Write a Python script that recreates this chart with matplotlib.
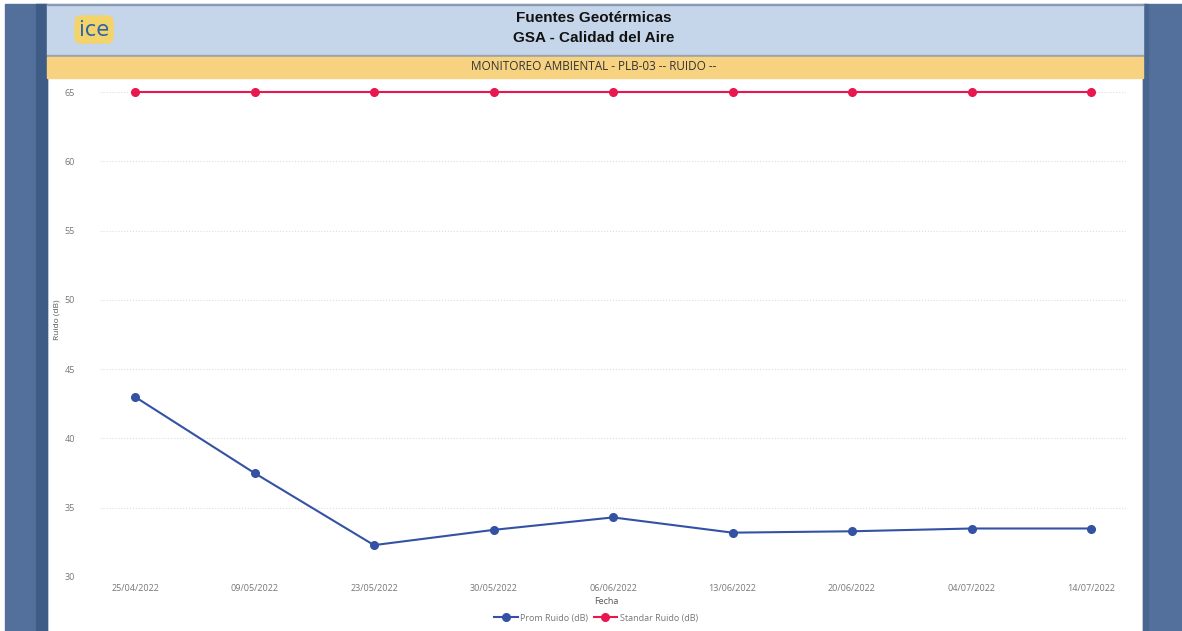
import matplotlib.pyplot as plt
from matplotlib.patches import Rectangle, FancyBboxPatch
from matplotlib.lines import Line2D

fechas = ['25/04/2022', '09/05/2022', '23/05/2022', '30/05/2022', '06/06/2022',
          '13/06/2022', '20/06/2022', '04/07/2022', '14/07/2022']
prom_ruido = [43.0, 37.5, 32.3, 33.4, 34.3, 33.2, 33.3, 33.5, 33.5]
standar_ruido = [65, 65, 65, 65, 65, 65, 65, 65, 65]
y_ticks = [30, 35, 40, 45, 50, 55, 60, 65]

W, H = 1182, 631
fig = plt.figure(figsize=(W / 100, H / 100), dpi=100)
fig.patch.set_facecolor('white')

def px(x0, y0, x1, y1):
    # pixel box (top-left origin) -> figure fraction rect
    return [x0 / W, 1 - y1 / H, (x1 - x0) / W, (y1 - y0) / H]

# frame / background pieces
bg = fig.add_axes([0, 0, 1, 1])
bg.set_xlim(0, W)
bg.set_ylim(H, 0)
bg.axis('off')
bg.add_patch(Rectangle((5, 4), 42, H, color='#52709b'))
bg.add_patch(Rectangle((36, 4), 11, H, color='#3f5c87'))
bg.add_patch(Rectangle((1143, 4), W - 1143, H, color='#52709b'))
bg.add_patch(Rectangle((1143, 4), 5, H, color='#48658f'))
bg.add_patch(Rectangle((47, 4), 1096, 51, color='#c6d6ea'))
bg.add_patch(Rectangle((47, 3.5), 1096, 1.2, color='#8a9ab0'))
bg.add_patch(Rectangle((47, 55), 1096, 1.5, color='#9aa3ad'))
bg.add_patch(Rectangle((47, 56.5), 1096, 21, color='#f6d281'))

# logo
bg.add_patch(FancyBboxPatch((77, 18), 34, 23, boxstyle='round,pad=2,rounding_size=6',
                            color='#f3d46a'))
bg.text(94, 30, 'ice', color='#2d62ac', fontsize=15, ha='center', va='center',
        family='DejaVu Sans')

bg.text(594, 18, 'Fuentes Geotérmicas', fontsize=11, fontweight='bold', ha='center',
        va='center', family='Liberation Sans', color='#111111')
bg.text(594, 38, 'GSA - Calidad del Aire', fontsize=11, fontweight='bold', ha='center',
        va='center', family='Liberation Sans', color='#111111')
bg.text(594, 67, 'MONITOREO AMBIENTAL - PLB-03 -- RUIDO --', fontsize=8.5, ha='center',
        va='center', family='Open Sans', color='#333333')

# chart
left_px, right_px = 100, 1126
ax = fig.add_axes(px(left_px, 92, right_px, 577))
step = (1091 - 135) / 8
ax.set_xlim(-(135 - left_px) / step, 8 + (right_px - 1091) / step)
ax.set_ylim(30, 65)
x = list(range(len(fechas)))

ax.plot(x, prom_ruido, color='#3452a3', lw=1.5, marker='o', ms=5.5, clip_on=False, zorder=3)
ax.plot(x, standar_ruido, color='#e8174f', lw=1.5, marker='o', ms=5.5, clip_on=False, zorder=3)

ax.set_yticks(y_ticks)
ax.set_xticks(x)
ax.set_xticklabels(fechas)
ax.tick_params(length=0, labelsize=6.5, labelcolor='#777777')
ax.tick_params(axis='x', pad=5)
ax.tick_params(axis='y', pad=18)
for lbl in ax.get_xticklabels() + ax.get_yticklabels():
    lbl.set_family('Open Sans')
ax.grid(axis='y', color='#dddddd', ls=':', lw=0.8)
for s in ax.spines.values():
    s.set_visible(False)
ax.set_facecolor('white')

fig.text(57 / W, 1 - 320 / H, 'Ruido (dB)', rotation=90, fontsize=6, color='#555555',
         ha='center', va='center', family='Open Sans')
fig.text(606 / W, 1 - 601 / H, 'Fecha', fontsize=6.5, color='#555555',
         ha='center', va='center', family='Open Sans')

handles = [Line2D([], [], color='#3452a3', lw=1.5, marker='o', ms=5.5),
           Line2D([], [], color='#e8174f', lw=1.5, marker='o', ms=5.5)]
fig.legend(handles, ['Prom Ruido (dB)', 'Standar Ruido (dB)'], loc='center',
           bbox_to_anchor=(596 / W, 1 - 618 / H), ncol=2, frameon=False,
           prop={'family': 'Open Sans', 'size': 6.5}, labelcolor='#777777',
           handlelength=2.6, handletextpad=0.3, columnspacing=0.6)

fig.savefig('out.png', dpi=100)
